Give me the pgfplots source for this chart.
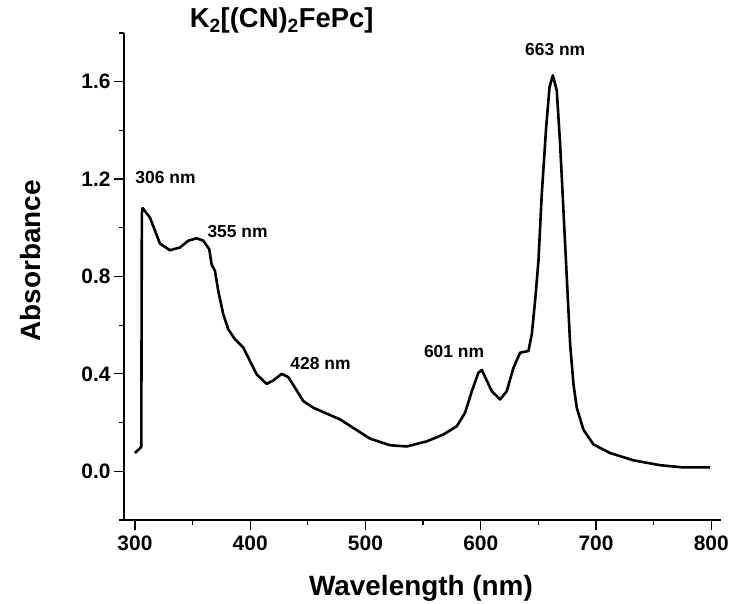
\documentclass[border=0pt]{standalone}
\usepackage{fontspec}
\setmainfont{Liberation Sans}
\usepackage{pgfplots}
\pgfplotsset{compat=1.18}
\pgfplotstableread{
x y
300 0.075
305.5 0.10
306 1.06
306.7 1.081
313 1.042
317.4 0.988
321.7 0.935
330.4 0.908
339 0.919
346.3 0.947
353.5 0.957
359.3 0.947
364.5 0.912
366.5 0.85
369.4 0.823
372.3 0.741
376.6 0.645
381 0.583
386.8 0.542
394 0.508
399.8 0.453
405.6 0.398
414.3 0.359
420 0.373
427.3 0.40
433 0.387
438.9 0.343
446.1 0.288
454.8 0.261
478 0.213
489.5 0.178
504 0.134
521.4 0.107
535.8 0.102
553.2 0.123
567.6 0.151
579.2 0.185
586.4 0.24
592.3 0.329
598 0.405
601 0.416
609.6 0.329
616.8 0.295
622.6 0.329
628.4 0.425
634.2 0.487
641.4 0.494
644.3 0.562
647.2 0.70
650.1 0.864
653 1.139
656.8 1.413
659.7 1.577
662.6 1.626
666 1.564
668.9 1.344
671.8 1.07
674.7 0.795
677.6 0.521
680.5 0.357
683.4 0.26
689.2 0.17
697.9 0.11
712.3 0.075
732.6 0.045
755.7 0.025
775.9 0.016
799 0.016
}\spectrum
\begin{document}
\begin{tikzpicture}
\path[use as bounding box] (-124bp,-84bp) rectangle (606bp,520bp);
\begin{axis}[
  at={(0,0)}, anchor=south west,
  scale only axis, width=597bp, height=487bp,
  xmin=290.5, xmax=808.5, ymin=-0.2, ymax=1.8,
  axis x line*=bottom, axis y line*=left,
  axis line style={line width=1.2bp, -},
  tick align=outside, major tick length=10bp, minor tick length=5bp,
  every tick/.style={line width=1.2bp, black},
  xtick={300,400,500,600,700,800},
  minor xtick={350,450,550,650,750},
  ytick={0,0.4,0.8,1.2,1.6},
  minor ytick={-0.2,0.2,0.6,1.0,1.4,1.8},
  /pgf/number format/assume math mode=true,
  tick label style={font=\fontsize{21}{24}\selectfont\bfseries},
  y tick label style={/pgf/number format/.cd, fixed, fixed zerofill, precision=1},
  x tick label style={yshift=-2bp, /pgf/number format/.cd, set thousands separator={}},
  label style={font=\fontsize{28}{32}\selectfont\bfseries},
  xlabel={Wavelength (nm)},
  ylabel={Absorbance},
  xlabel style={at={(axis description cs:0.4975,-0.14)}, anchor=center},
  ylabel style={at={(axis description cs:-0.157,0.532)}, anchor=center},
  clip=false,
]
\addplot[black, line width=2.6bp, line join=round] table[x=x,y=y] {\spectrum};
\node[anchor=base, font=\fontsize{27.5}{30}\selectfont\bfseries] at (axis description cs:0.264,1.0103) {K\textsubscript{2}[(CN)\textsubscript{2}FePc]};
\begin{scope}[every node/.style={font=\fontsize{17.5}{20}\selectfont\bfseries}]
\node[anchor=west] at (axis cs:297.4,1.206) {306 nm};
\node[anchor=west] at (axis cs:359.9,0.984) {355 nm};
\node[anchor=west] at (axis cs:431.9,0.441) {428 nm};
\node[anchor=center] at (axis cs:576.9,0.494) {601 nm};
\node[anchor=center] at (axis cs:664.6,1.731) {663 nm};
\end{scope}
\end{axis}
\end{tikzpicture}
\end{document}
